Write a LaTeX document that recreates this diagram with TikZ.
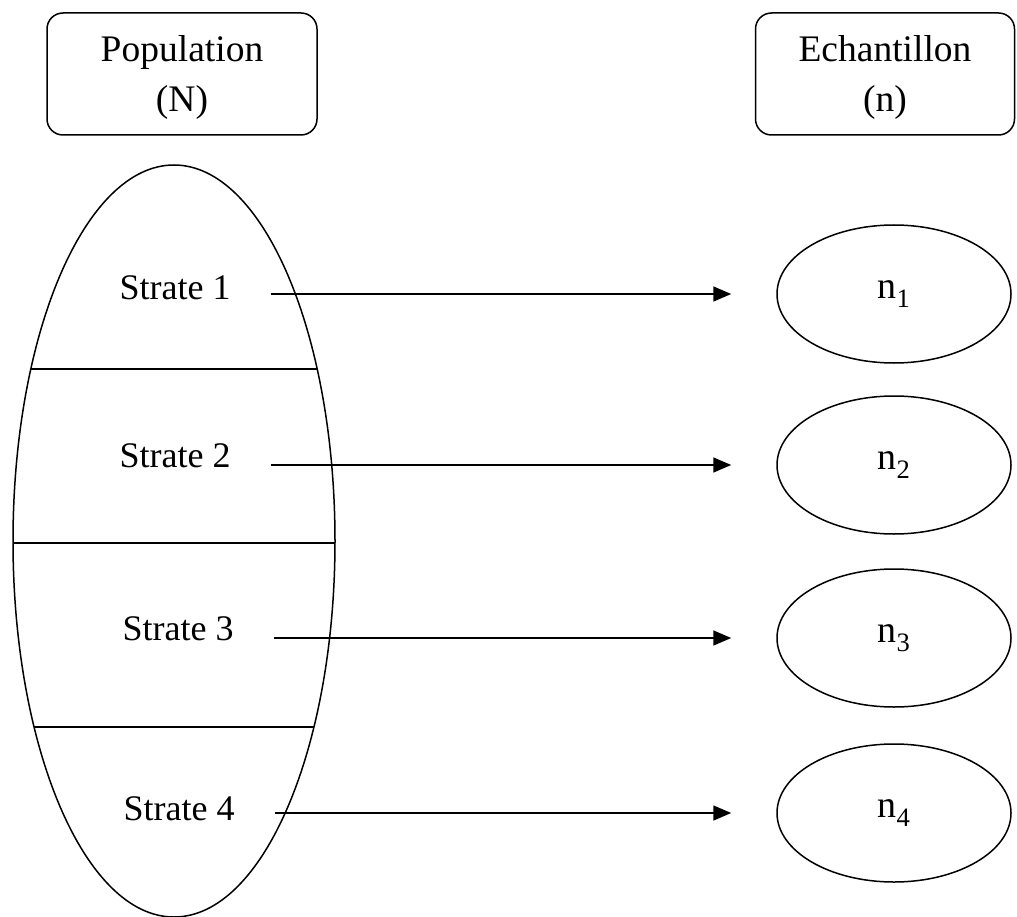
\documentclass[tikz,border=0pt]{standalone}
\usepackage{fontspec}
\setmainfont{Liberation Serif}
\usetikzlibrary{arrows.meta,shapes.geometric}
\begin{document}
\begin{tikzpicture}[x=1pt,y=-1pt,
  lbl/.style={font=\fontsize{36}{50}\selectfont},
  hlbl/.style={font=\fontsize{37.5}{50}\selectfont},
  stroke/.style={line width=1.5pt, draw=black},
  headbox/.style={stroke, rounded corners=16pt, align=center, minimum height=122pt, inner sep=0pt, hlbl},
  stratlbl/.style={lbl, anchor=base, inner sep=0pt},
  samp/.style={stroke, ellipse, minimum width=234pt, minimum height=138pt, inner sep=0pt, font=\fontsize{38}{46}\selectfont},
  arr/.style={line width=1.6pt, -{Triangle[length=18pt,width=15pt]}, shorten <=40pt, shorten >=45pt}
]
\useasboundingbox[fill=white] (0,0) rectangle (1017,917);

% header boxes
\node[headbox, minimum width=270pt] (popbox) at (182,74) {\rule{0pt}{33pt}Population\\(N)};
\node[headbox, minimum width=259pt] (echbox) at (885,74) {\rule{0pt}{33pt}Echantillon\\(n)};

% population ellipse
\node[stroke, ellipse, minimum width=322pt, minimum height=752pt, inner sep=0pt] (pop) at (174,541) {};
\draw[stroke] (31,369) -- (317,369);
\draw[stroke] (13,543) -- (335,543);
\draw[stroke] (34,727) -- (314,727);

% strata labels
\node[stratlbl] (s1) at (175,300) {Strate 1};
\node[stratlbl] (s2) at (175,467) {Strate 2};
\node[stratlbl] (s3) at (178,640) {Strate 3};
\node[stratlbl] (s4) at (179,820) {Strate 4};

% sample ellipses
\node[samp] (e1) at (894,294) {n\textsubscript{1}};
\node[samp] (e2) at (894,465) {n\textsubscript{2}};
\node[samp] (e3) at (894,638) {n\textsubscript{3}};
\node[samp] (e4) at (894,813) {n\textsubscript{4}};

% arrows
\draw[arr] (s1.east |- e1.west) -- (e1.west);
\draw[arr] (s2.east |- e2.west) -- (e2.west);
\draw[arr] (s3.east |- e3.west) -- (e3.west);
\draw[arr] (s4.east |- e4.west) -- (e4.west);
\end{tikzpicture}
\end{document}
